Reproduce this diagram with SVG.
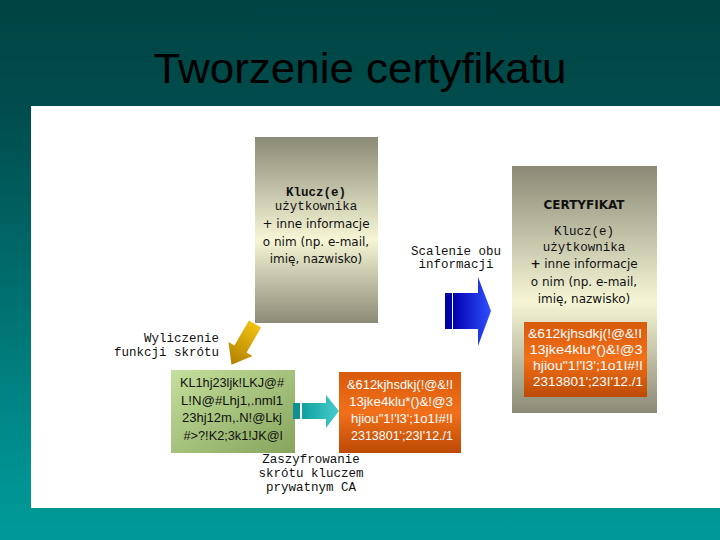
<svg xmlns="http://www.w3.org/2000/svg" width="720" height="540" viewBox="0 0 720 540">
<defs>
<linearGradient id="bg" x1="0" y1="0" x2="0" y2="1">
<stop offset="0" stop-color="#004444"/>
<stop offset="0.2" stop-color="#004c4c"/>
<stop offset="0.9" stop-color="#009494"/>
<stop offset="1" stop-color="#009999"/>
</linearGradient>
<linearGradient id="gray" x1="0" y1="0" x2="0" y2="1">
<stop offset="0" stop-color="#8a8a76"/>
<stop offset="0.55" stop-color="#f6f6d6"/>
<stop offset="1" stop-color="#8a8a76"/>
</linearGradient>
<linearGradient id="green" x1="0" y1="0" x2="1" y2="1">
<stop offset="0" stop-color="#c4e09c"/>
<stop offset="1" stop-color="#86a45c"/>
</linearGradient>
<linearGradient id="orange" x1="0" y1="0" x2="0" y2="1">
<stop offset="0" stop-color="#d85a0c"/>
<stop offset="0.5" stop-color="#f2701a"/>
<stop offset="1" stop-color="#bc4a04"/>
</linearGradient>
<linearGradient id="teal" x1="0" y1="0" x2="1" y2="0">
<stop offset="0" stop-color="#10a0a0"/>
<stop offset="1" stop-color="#48cccc"/>
</linearGradient>
<linearGradient id="blue" x1="0" y1="0" x2="1" y2="0">
<stop offset="0" stop-color="#0000b0"/>
<stop offset="1" stop-color="#3050ff"/>
</linearGradient>
<linearGradient id="gold" x1="0" y1="0" x2="1" y2="0">
<stop offset="0" stop-color="#f0c010"/>
<stop offset="1" stop-color="#b08000"/>
</linearGradient>
<style>
.mono{font-family:"Liberation Mono","DejaVu Sans Mono",monospace;font-size:12.5px;fill:#111}
.sans{font-family:"DejaVu Sans","Liberation Sans",sans-serif;font-size:12px;fill:#111}
.code{font-family:"Liberation Sans","DejaVu Sans",sans-serif;font-size:13.5px}
.w{fill:#fff}
.k{fill:#111}
</style>
</defs>
<rect x="0" y="0" width="720" height="540" fill="url(#bg)"/>
<rect x="31" y="106" width="689" height="402" fill="#ffffff"/>
<text x="360" y="83" text-anchor="middle" font-family="Liberation Sans, Arial, sans-serif" font-size="43" fill="#000" textLength="413" lengthAdjust="spacingAndGlyphs">Tworzenie certyfikatu</text>

<g id="user-key">
<rect x="255" y="137" width="123" height="186" fill="url(#gray)"/>
<text class="mono" x="316" y="196" text-anchor="middle" font-weight="bold">Klucz(e)</text>
<text class="mono" x="316" y="210" text-anchor="middle">użytkownika</text>
<text class="sans" x="316" y="228" text-anchor="middle">+ inne informacje</text>
<text class="sans" x="316" y="246" text-anchor="middle">o nim (np. e-mail,</text>
<text class="sans" x="316" y="263" text-anchor="middle">imię, nazwisko)</text>
</g>

<g id="certificate">
<rect x="512" y="166" width="145" height="247" fill="url(#gray)"/>
<text class="sans" x="584" y="209" text-anchor="middle" font-weight="bold" font-size="11">CERTYFIKAT</text>
<text class="mono" x="584" y="235" text-anchor="middle">Klucz(e)</text>
<text class="mono" x="584" y="251" text-anchor="middle">użytkownika</text>
<text class="sans" x="584" y="268" text-anchor="middle"><tspan font-weight="bold">+</tspan> inne informacje</text>
<text class="sans" x="584" y="286" text-anchor="middle">o nim (np. e-mail,</text>
<text class="sans" x="584" y="303" text-anchor="middle">imię, nazwisko)</text>
<rect x="524" y="322" width="123" height="75" fill="url(#orange)"/>
<text class="code w" x="585" y="338" text-anchor="middle" textLength="114" lengthAdjust="spacingAndGlyphs">&amp;612kjhsdkj(!@&amp;!I</text>
<text class="code w" x="586" y="354" text-anchor="middle" textLength="113" lengthAdjust="spacingAndGlyphs">13jke4klu*()&amp;!@3</text>
<text class="code w" x="588" y="370" text-anchor="middle" textLength="110" lengthAdjust="spacingAndGlyphs">hjiou"1!'l3';1o1I#!I</text>
<text class="code w" x="588" y="386" text-anchor="middle" textLength="110" lengthAdjust="spacingAndGlyphs">2313801';23I'12./1</text>
</g>

<g id="hash">
<rect x="171" y="370" width="124" height="83" fill="url(#green)"/>
<text class="code k" x="232" y="387" text-anchor="middle" textLength="104" lengthAdjust="spacingAndGlyphs">KL1hj23ljk!LKJ@#</text>
<text class="code k" x="232" y="405" text-anchor="middle" textLength="102" lengthAdjust="spacingAndGlyphs">L!N@#Lhj1,.nml1</text>
<text class="code k" x="232" y="422" text-anchor="middle" textLength="100" lengthAdjust="spacingAndGlyphs">23hj12m,.N!@Lkj</text>
<text class="code k" x="233" y="440" text-anchor="middle" textLength="99" lengthAdjust="spacingAndGlyphs">#&gt;?!K2;3k1!JK@l</text>
</g>

<g id="signature">
<rect x="339" y="372" width="122" height="81" fill="url(#orange)"/>
<text class="code w" x="400" y="389" text-anchor="middle" textLength="106" lengthAdjust="spacingAndGlyphs">&amp;612kjhsdkj(!@&amp;!I</text>
<text class="code w" x="401" y="406" text-anchor="middle" textLength="104" lengthAdjust="spacingAndGlyphs">13jke4klu*()&amp;!@3</text>
<text class="code w" x="402" y="423" text-anchor="middle" textLength="102" lengthAdjust="spacingAndGlyphs">hjiou"1!'l3';1o1I#!I</text>
<text class="code w" x="402" y="440" text-anchor="middle" textLength="102" lengthAdjust="spacingAndGlyphs">2313801';23I'12./1</text>
</g>

<g id="connectors">
<g id="hash-arrow">
<polygon points="0,-7 29,-7 29,-14 47,0 29,14 29,7 0,7" fill="url(#gold)" transform="translate(255,324) rotate(120)"/>
<text class="mono" x="219" y="342" text-anchor="end">Wyliczenie</text>
<text class="mono" x="219" y="356" text-anchor="end">funkcji skrótu</text>
</g>
<g id="encrypt-arrow">
<rect x="293" y="403" width="7" height="16" fill="#0e9090"/>
<polygon points="302,403 326,403 326,395 339,411 326,428 326,419 302,419" fill="url(#teal)"/>
<text class="mono" x="311" y="463" text-anchor="middle">Zaszyfrowanie</text>
<text class="mono" x="311" y="477" text-anchor="middle">skrótu kluczem</text>
<text class="mono" x="311" y="491" text-anchor="middle">prywatnym CA</text>
</g>
<g id="merge-arrow">
<rect x="445" y="293" width="7" height="36" fill="#0000a8"/>
<polygon points="453,293 478,293 478,277 491,311 478,346 478,329 453,329" fill="url(#blue)"/>
<text class="mono" x="456" y="255" text-anchor="middle">Scalenie obu</text>
<text class="mono" x="456" y="268" text-anchor="middle">informacji</text>
</g>
</g>
</svg>
